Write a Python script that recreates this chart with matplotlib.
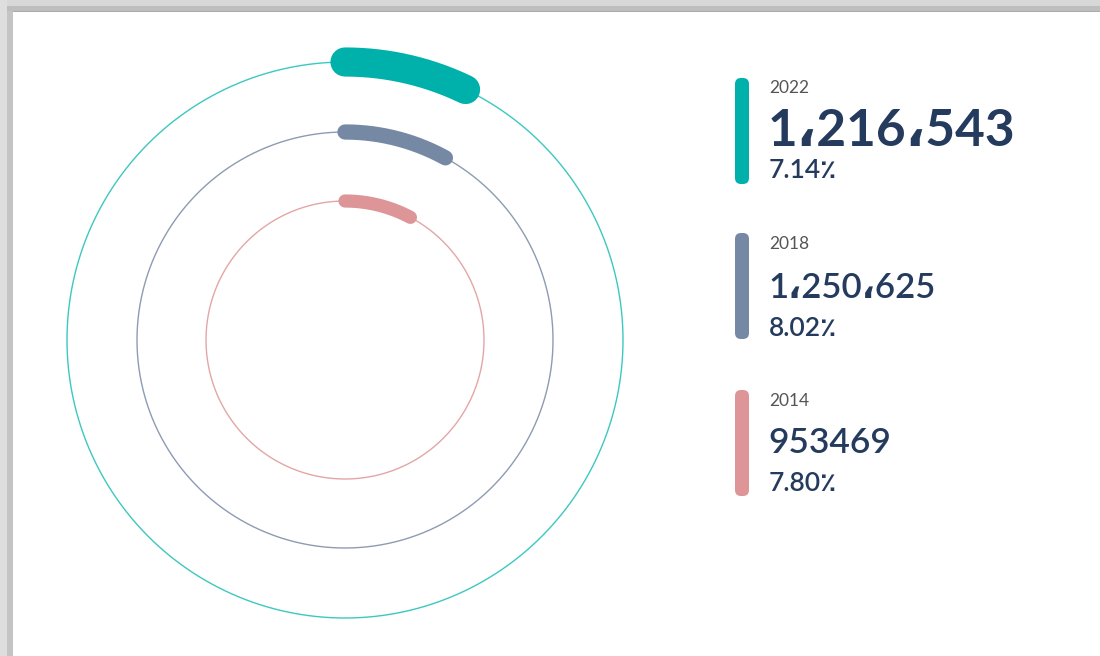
import numpy as np
import matplotlib
matplotlib.use("Agg")
import matplotlib.pyplot as plt
from matplotlib.patches import FancyBboxPatch, Rectangle

# ---- data ----
years = ["2022", "2018", "2014"]
values_text = ["1\u060c216\u060c543", "1\u060c250\u060c625", "953469"]
percents = [7.14, 8.02, 7.80]
colors = ["#00b1ab", "#7689a4", "#dd9598"]
ring_colors = ["#3cc8c0", "#8d9bb3", "#e3a6a6"]

W, H = 1100, 656
fig = plt.figure(figsize=(W / 100, H / 100), dpi=100)
ax = fig.add_axes([0, 0, 1, 1])
ax.set_xlim(0, W)
ax.set_ylim(H, 0)
ax.axis("off")

# card shadow frame
ax.add_patch(Rectangle((0, 0), W, 6, color="#d8d8d8", lw=0, zorder=0))
ax.add_patch(Rectangle((0, 6), W, 5, color="#bebebe", lw=0, zorder=0))
ax.add_patch(Rectangle((0, 11), W, 1.2, color="#aaaaaa", lw=0, zorder=0))
ax.add_patch(Rectangle((0, 0), 7, H, color="#dedede", lw=0, zorder=0))
ax.add_patch(Rectangle((7, 11), 6, H - 11, color="#c4c4c4", lw=0, zorder=0))

cx, cy = 345, 340
radii = [278, 208, 139]
arc_widths = [21, 11, 9.5]

t = np.linspace(0, 2 * np.pi, 721)
for r, rc, col, pct, lw in zip(radii, ring_colors, colors, percents, arc_widths):
    ax.plot(cx + r * np.sin(t), cy - r * np.cos(t), color=rc, lw=1.0, zorder=2)
    a = np.linspace(0, 2 * np.pi * pct / 100, 200)
    ax.plot(cx + r * np.sin(a), cy - r * np.cos(a), color=col, lw=lw,
            solid_capstyle="round", zorder=3)

# legend blocks
fam = ["Lato", "DejaVu Sans"]
bar_tops = [78, 233, 390]
bar_h = 106
year_y = [93, 249, 406]
num_y = [146, 298, 453]
pct_y = [178, 336, 491]
num_sizes = [37, 25, 25.5]
num_weights = ["bold", "semibold", "semibold"]
for i in range(3):
    ax.add_patch(FancyBboxPatch((735, bar_tops[i]), 14, bar_h,
                                boxstyle="round,pad=0,rounding_size=6",
                                color=colors[i], lw=0, zorder=3))
    ax.text(769, year_y[i], years[i], fontsize=12.5, color="#555555",
            family=fam, va="baseline", ha="left")
    ax.text(768, num_y[i], values_text[i], fontsize=num_sizes[i], color="#243b5e",
            family=fam, weight=num_weights[i], va="baseline", ha="left")
    ax.text(769, pct_y[i], f"{percents[i]:.2f}\u066a", fontsize=19, color="#243b5e",
            family=fam, weight="semibold", va="baseline", ha="left")

fig.savefig("out.png", dpi=100)
